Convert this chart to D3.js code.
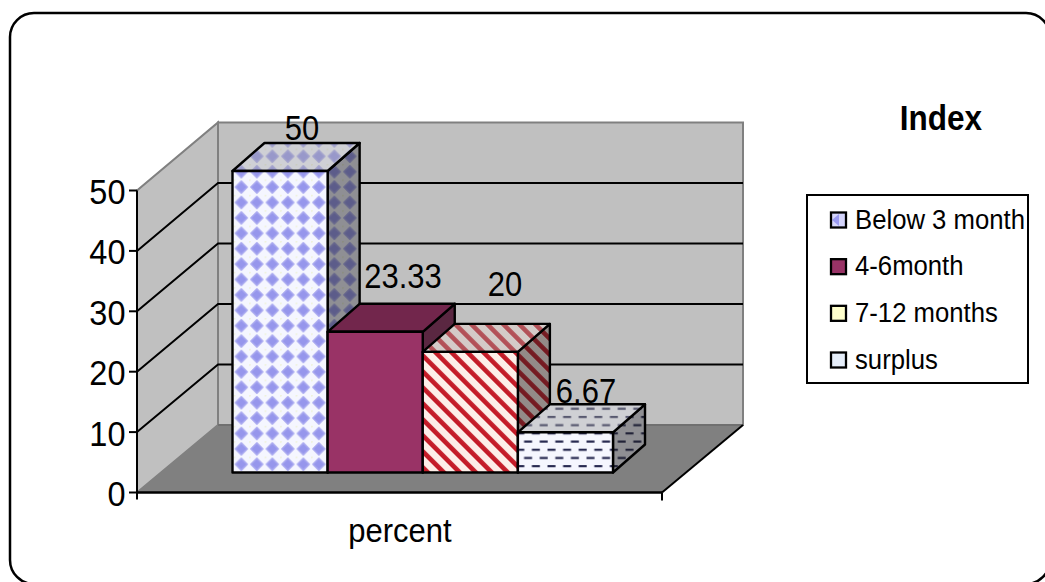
<!DOCTYPE html>
<html>
<head>
<meta charset="utf-8">
<script src="https://cdn.jsdelivr.net/npm/d3@7/dist/d3.min.js"></script>
<style>
html,body{margin:0;padding:0;background:#fff;overflow:hidden}
text{font-family:"Liberation Sans",Arial,sans-serif;fill:#000}
</style>
</head>
<body>
<svg id="chart" width="1045" height="582"></svg>
<script>
// Chart values
const categories = ["percent"];
const seriesNames = ["Below 3 month", "4-6month", "7-12 months", "surplus"];
const seriesValues = [50, 23.33, 20, 6.67];
const valueLabels = ["50", "23.33", "20", "6.67"];
const yTicks = [0, 10, 20, 30, 40, 50];

const svg = d3.select("#chart");
const defs = svg.append("defs");

// Front and back planes of the oblique plot box
const yFront = d3.scaleLinear().domain([0, 50]).range([492.5, 190.5]);
const yBack = d3.scaleLinear().domain([0, 50]).range([425, 122.5]);
const x = d3.scaleBand().domain(categories).range([137, 662]);
const xSeries = d3.scaleBand().domain(seriesNames).range([232.5, 613]);
const barH = d3.scaleLinear().domain([0, 50]).range([0, 301.5]);
const backShift = 81;
const barBase = 472.5;
const bd = {dx: 32, dy: -28};

const pts = a => a.map(p => p.join(",")).join(" ");
// Text is slightly taller than its natural proportions
const label = (sel, px, py, size, stretch = 1.12) =>
  sel.attr("transform", `translate(${px},${py}) scale(1,${stretch})`).attr("font-size", size);

// Frame
svg.append("rect").attr("x", 10).attr("y", 13).attr("width", 1040).attr("height", 571)
  .attr("rx", 24).attr("ry", 24).attr("fill", "#fff").attr("stroke", "#000").attr("stroke-width", 2.5);

// Walls and floor
const x0 = x.range()[0], x1 = x.range()[1];
const bx0 = x0 + backShift, bx1 = x1 + backShift;
const plot = svg.append("g");
plot.append("polygon")
  .attr("points", pts([[x0, yFront(0)], [bx0, yBack(0)], [bx0, yBack(50)], [x0, yFront(50)]]))
  .attr("fill", "#c0c0c0").attr("stroke", "#808080").attr("stroke-width", 2);
plot.append("polygon")
  .attr("points", pts([[bx0, yBack(0)], [bx1, yBack(0)], [bx1, yBack(50)], [bx0, yBack(50)]]))
  .attr("fill", "#c0c0c0").attr("stroke", "#808080").attr("stroke-width", 2);
plot.append("polygon")
  .attr("points", pts([[x0, yFront(0)], [bx0, yBack(0)], [bx1, yBack(0)], [x1, yFront(0)]]))
  .attr("fill", "#808080");
plot.append("line").attr("x1", bx0).attr("x2", bx1).attr("y1", yBack(0)).attr("y2", yBack(0))
  .attr("stroke", "#707070").attr("stroke-width", 2);

// Gridlines across both walls
yTicks.filter(t => t > 0 && t < 50).forEach(t => {
  plot.append("polyline")
    .attr("points", pts([[x0, yFront(t)], [bx0, yBack(t)], [bx1, yBack(t)]]))
    .attr("fill", "none").attr("stroke", "#000").attr("stroke-width", 2);
});

// Fill textures, shared by every face of a box
function addPattern(id, w, h, ox, oy, draw, transform) {
  const p = defs.append("pattern").attr("id", id).attr("patternUnits", "userSpaceOnUse")
    .attr("x", ox).attr("y", oy).attr("width", w).attr("height", h);
  if (transform) p.attr("patternTransform", transform);
  draw(p);
}
addPattern("tex0", 15.5, 15.4, 233.6, 379.6, p => {
  p.append("rect").attr("width", 15.5).attr("height", 15.4).attr("fill", "#f5f6ff");
  p.append("path").attr("d", "M1.8,7.7L7.75,1.8L13.7,7.7L7.75,13.6Z")
    .attr("fill", "#9696ec").attr("stroke", "#a8a8f0").attr("stroke-width", 1.5).attr("stroke-linejoin", "round");
  p.append("circle").attr("cx", 0.5).attr("cy", 0.5).attr("r", 1.2).attr("fill", "#eef2d8");
});
addPattern("tex1", 10, 10, 0, 0, p => {
  p.append("rect").attr("width", 10).attr("height", 10).attr("fill", "#993366");
});
addPattern("tex2", 11.3, 11.3, 0, 0, p => {
  p.append("rect").attr("width", 11.3).attr("height", 11.3).attr("fill", "#fdeee8");
  p.append("rect").attr("x", 0).attr("width", 4.6).attr("height", 11.3).attr("fill", "#c41c28");
}, "rotate(-45)");
addPattern("tex3", 15.6, 16.4, 0, 3, p => {
  p.append("rect").attr("width", 15.6).attr("height", 16.4).attr("fill", "#f5f6fe");
  p.append("path").attr("d", "M1.5,4H9.5M9.3,12.2H15.6M0,12.2H1.7")
    .attr("stroke", "#272950").attr("stroke-width", 2.2);
});

// Bars as boxes: shaded side, tinted top, plain front
const bars = plot.selectAll("g.bar").data(seriesValues).join("g").attr("class", "bar");
bars.each(function (v, i) {
  const g = d3.select(this);
  const l = xSeries(seriesNames[i]), r = l + xSeries.bandwidth(), top = barBase - barH(v);
  const face = (points, tint, tintOpacity) => {
    g.append("polygon").attr("points", pts(points)).attr("fill", `url(#tex${i})`);
    g.append("polygon").attr("points", pts(points)).attr("fill", tint).attr("fill-opacity", tintOpacity)
      .attr("stroke", "#000").attr("stroke-width", 2.4).attr("stroke-linejoin", "round");
  };
  face([[r, barBase], [r + bd.dx, barBase + bd.dy], [r + bd.dx, top + bd.dy], [r, top]], "#1c1c1c", i === 1 ? 0.5 : 0.47);
  face([[l, top], [l + bd.dx, top + bd.dy], [r + bd.dx, top + bd.dy], [r, top]], i === 1 ? "#000" : "#9a9a9a", i === 1 ? 0.25 : 0.42);
  face([[l, barBase], [l, top], [r, top], [r, barBase]], "#fff", 0);
});

// Value labels
const labelPos = [[302, 140], [403, 288], [505, 296], [586, 403]];
plot.selectAll("text.val").data(valueLabels).join("text").attr("class", "val")
  .attr("text-anchor", "middle").text(d => d)
  .each(function (d, i) { label(d3.select(this), labelPos[i][0], labelPos[i][1], 31); });

// Value axis
const axis = svg.append("g");
axis.append("line").attr("x1", x0).attr("x2", x0).attr("y1", yFront(50)).attr("y2", yFront(0) + 7)
  .attr("stroke", "#000").attr("stroke-width", 2);
axis.selectAll("line.tick").data(yTicks).join("line").attr("class", "tick")
  .attr("x1", x0 - 8).attr("x2", x0).attr("y1", d => yFront(d)).attr("y2", d => yFront(d))
  .attr("stroke", "#000").attr("stroke-width", 2);
axis.selectAll("text.tick").data(yTicks).join("text").attr("class", "tick")
  .attr("text-anchor", "end").text(d => d)
  .each(function (d) { label(d3.select(this), 125.5, yFront(d) + 13.5, 32.5, 1.08); });

// Category axis
axis.append("line").attr("x1", x0).attr("x2", x1).attr("y1", yFront(0)).attr("y2", yFront(0))
  .attr("stroke", "#000").attr("stroke-width", 2.4);
axis.append("line").attr("x1", x1).attr("x2", x1).attr("y1", yFront(0)).attr("y2", yFront(0) + 8)
  .attr("stroke", "#000").attr("stroke-width", 2);
axis.append("line").attr("x1", x1).attr("x2", bx1).attr("y1", yFront(0)).attr("y2", yBack(0))
  .attr("stroke", "#000").attr("stroke-width", 2);
axis.append("text").attr("text-anchor", "middle").text(categories[0])
  .call(label, 400, 542, 31, 1.08);

// Legend
const legend = svg.append("g");
legend.append("rect").attr("x", 807).attr("y", 195).attr("width", 221).attr("height", 188)
  .attr("fill", "#fff").attr("stroke", "#000").attr("stroke-width", 2);
const legendY = d3.scalePoint().domain(seriesNames).range([220, 360]);
const swatches = ["#d4d4fb", "#993366", "#ffffcc", "#e6eefa"];
seriesNames.forEach((name, i) => {
  const sy = legendY(name);
  legend.append("rect").attr("x", 831).attr("y", sy - 7.5).attr("width", 15).attr("height", 15)
    .attr("fill", swatches[i]);
  if (i === 0) {
    legend.append("path").attr("d", `M832,${sy}L839,${sy - 6}V${sy + 6}Z`).attr("fill", "#9a9af0");
  }
  legend.append("rect").attr("x", 831).attr("y", sy - 7.5).attr("width", 15).attr("height", 15)
    .attr("fill", "none").attr("stroke", "#000").attr("stroke-width", 2.3);
  legend.append("text").text(name).call(label, 855, sy + 8.5, 25.7, 1.08);
});

// Legend heading
svg.append("text").attr("text-anchor", "middle").attr("font-weight", "bold").text("Index")
  .call(label, 941, 130, 31.5, 1.1);
</script>
</body>
</html>
